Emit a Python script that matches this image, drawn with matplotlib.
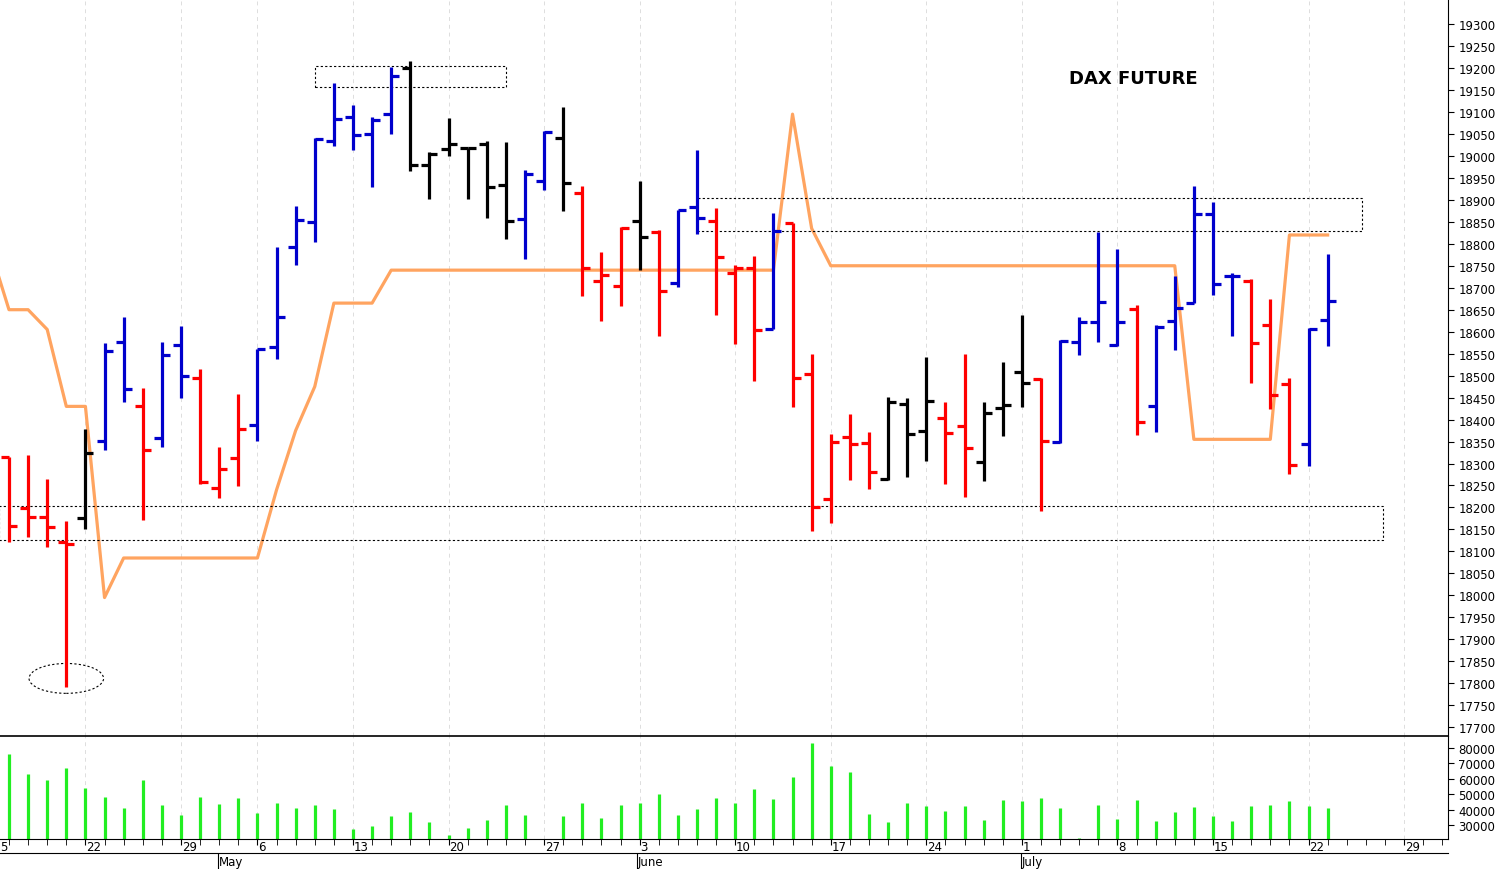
import numpy as np
import matplotlib
matplotlib.use("Agg")
import matplotlib.pyplot as plt
from matplotlib.patches import Rectangle, Ellipse

# OHLC per trading day (index 0 = first bar on the chart)
opens = [18314, 18198, 18178, 18121, 18176, 18351, 18576, 18431, 18358, 18569,
         18494, 18244, 18312, 18387, 18565, 18792, 18849, 19034, 19088, 19050,
         19095, 19200, 18979, 19016, 19018, 19027, 18934, 18856, 18943, 19041,
         18915, 18715, 18704, 18852, 18827, 18711, 18883, 18852, 18733, 18745,
         18606, 18847, 18503, 18219, 18360, 18346, 18264, 18435, 18374, 18403,
         18385, 18303, 18426, 18508, 18492, 18349, 18576, 18622, 18569, 18651,
         18431, 18624, 18666, 18867, 18726, 18715, 18615, 18481, 18344, 18626]
highs = [18314, 18319, 18264, 18169, 18378, 18574, 18633, 18472, 18576, 18613,
         18515, 18337, 18458, 18560, 18792, 18886, 19041, 19166, 19116, 19088,
         19202, 19216, 19009, 19086, 19018, 19034, 19031, 18968, 19057, 19111,
         18931, 18781, 18838, 18943, 18831, 18877, 19013, 18881, 18751, 18772,
         18870, 18847, 18549, 18367, 18412, 18371, 18451, 18449, 18542, 18440,
         18549, 18440, 18531, 18638, 18494, 18580, 18633, 18827, 18789, 18660,
         18615, 18726, 18931, 18895, 18733, 18720, 18674, 18494, 18608, 18777]
lows = [18121, 18132, 18110, 17791, 18151, 18330, 18440, 18171, 18337, 18449,
        18253, 18221, 18249, 18351, 18538, 18751, 18804, 19022, 19013, 18929,
        19050, 18965, 18902, 19000, 18902, 18858, 18811, 18766, 18922, 18874,
        18681, 18624, 18658, 18740, 18590, 18701, 18822, 18637, 18572, 18487,
        18606, 18429, 18146, 18164, 18262, 18242, 18262, 18269, 18305, 18253,
        18223, 18260, 18362, 18428, 18192, 18346, 18547, 18576, 18567, 18364,
        18371, 18558, 18666, 18683, 18590, 18483, 18424, 18276, 18294, 18567]
closes = [18157, 18178, 18155, 18116, 18324, 18556, 18469, 18330, 18547, 18499,
          18258, 18287, 18378, 18560, 18633, 18854, 19038, 19084, 19047, 19082,
          19182, 18979, 19004, 19027, 19018, 18929, 18852, 18959, 19054, 18938,
          18745, 18729, 18836, 18815, 18692, 18877, 18858, 18770, 18745, 18604,
          18829, 18494, 18201, 18349, 18344, 18280, 18440, 18367, 18442, 18369,
          18335, 18415, 18433, 18483, 18351, 18578, 18622, 18667, 18622, 18394,
          18610, 18653, 18867, 18708, 18726, 18574, 18456, 18296, 18606, 18669]
# r = red, b = blue, k = black
bar_colors = list("rrrrkbbrbbrrrbbbbbbbbkkkkkkbbkrrrkrbbrrrbrrrrrkkkrrkkkrbbbbrbbbbbrrrbb")

volumes = [76100, 63100, 59200, 67000, 54000, 48200, 41000, 59200, 43000, 36500,
           48200, 43600, 47500, 37800, 44300, 41000, 43000, 40400, 27400, 29400,
           35800, 38400, 32000, 23500, 28100, 33200, 43000, 36500, 21000, 35800,
           44300, 34500, 43000, 44300, 50100, 36500, 40400, 47500, 44300, 53400,
           46900, 61200, 83200, 68300, 64400, 37100, 32000, 44300, 42300, 39100,
           42300, 33200, 46200, 45600, 47500, 41000, 21500, 43000, 33900, 46200,
           32600, 38400, 41700, 35800, 32600, 42300, 43000, 45600, 42300, 41000]

# orange indicator line (index, value)
line_x = [-1, 0, 1, 2, 3, 4, 5, 6, 13, 14, 15, 16, 17, 19, 20, 40, 41, 42, 43, 61, 62, 66, 67, 69]
line_y = [18790, 18650, 18650, 18605, 18430, 18430, 17995, 18085, 18085, 18240, 18375,
          18475, 18665, 18665, 18740, 18740, 19095, 18835, 18750, 18750, 18355, 18355,
          18820, 18820]

week_pos = [-1, 4, 9, 13, 18, 23, 28, 33, 38, 43, 48, 53, 58, 63, 68, 73]
week_labels = ["5", "22", "29", "6", "13", "20", "27", "3", "10", "17", "24", "1", "8", "15", "22", "29"]
month_pos = [11.0, 32.9, 53.0]
month_labels = ["May", "June", "July"]

XMIN, XMAX = -0.47, 75.3

fig = plt.figure(figsize=(14.97, 8.70), dpi=100)
axv = fig.add_axes([0, 0.0345, 0.9673, 0.1184])
ax = fig.add_axes([0, 0.1529, 0.9673, 0.8471])

colmap = {"r": "#ff0000", "b": "#0000cc", "k": "#000000"}
idx = np.arange(len(opens))
cols = [colmap[c] for c in bar_colors]
lw = 2.3
ax.vlines(idx, lows, highs, colors=cols, lw=lw)
ax.hlines(opens, idx - 0.42, idx, colors=cols, lw=lw)
ax.hlines(closes, idx, idx + 0.42, colors=cols, lw=lw)

ax.plot(line_x, line_y, color="#ffa460", lw=2.3, zorder=1)

# annotations
rects = [(16.0, 19157, 10.0, 47), (36.0, 18829, 34.8, 75), (-0.5, 18126, 72.4, 77)]
for rx, ry, rw, rh in rects:
    ax.add_patch(Rectangle((rx, ry), rw, rh, fill=False, ls=(0, (2, 2)), lw=0.8, ec="black"))
ax.add_patch(Ellipse((3.0, 17811), 3.9, 68, fill=False, ls=(0, (2, 2)), lw=0.8, ec="black"))
ax.text(58.85, 19177, "DAX FUTURE", fontsize=13, fontweight="bold", ha="center", va="center")

for a in (ax, axv):
    for p in week_pos:
        a.axvline(p, color="#dddddd", lw=0.7, ls=(0, (4, 4)), zorder=0)
    a.yaxis.tick_right()
    a.tick_params(axis="y", labelsize=8.5, length=4, direction="out")
    for s in ("left", "top"):
        a.spines[s].set_visible(False)

ax.set_ylim(17680, 19357)
ax.set_yticks(np.arange(17700, 19301, 50))
ax.set_xticks([])
ax.patch.set_alpha(0)
ax.spines["bottom"].set_linewidth(1.2)
ax.spines["bottom"].set_color("black")

axv.vlines(idx, 0, volumes, colors="#22ee22", lw=2.3)
axv.set_ylim(20900, 87800)
axv.set_yticks(np.arange(30000, 80001, 10000))
axv.set_xticks(week_pos)
axv.set_xticklabels([""] * len(week_pos))
axv.set_xticks(np.arange(0, 76, 1), minor=True)
axv.tick_params(axis="x", which="both", length=4, direction="out")
for p, t in zip(week_pos, week_labels):
    axv.text(max(p + 0.05, XMIN), -0.01, t, transform=axv.get_xaxis_transform(),
             fontsize=8.5, va="top", ha="left")
for p, t in zip(month_pos, month_labels):
    axv.text(p, -0.16, t, transform=axv.get_xaxis_transform(), fontsize=8.5, va="top", ha="left")
    axv.plot([p - 0.05, p - 0.05], [-0.15, -0.28], transform=axv.get_xaxis_transform(),
             color="black", lw=0.8, clip_on=False)
axv.plot([XMIN, XMAX], [-0.14, -0.14], transform=axv.get_xaxis_transform(), color="black", lw=0.8, clip_on=False)

# limits last, so tick setting cannot widen them
ax.set_xlim(XMIN, XMAX)
axv.set_xlim(XMIN, XMAX)

fig.savefig("out.png", dpi=100)
